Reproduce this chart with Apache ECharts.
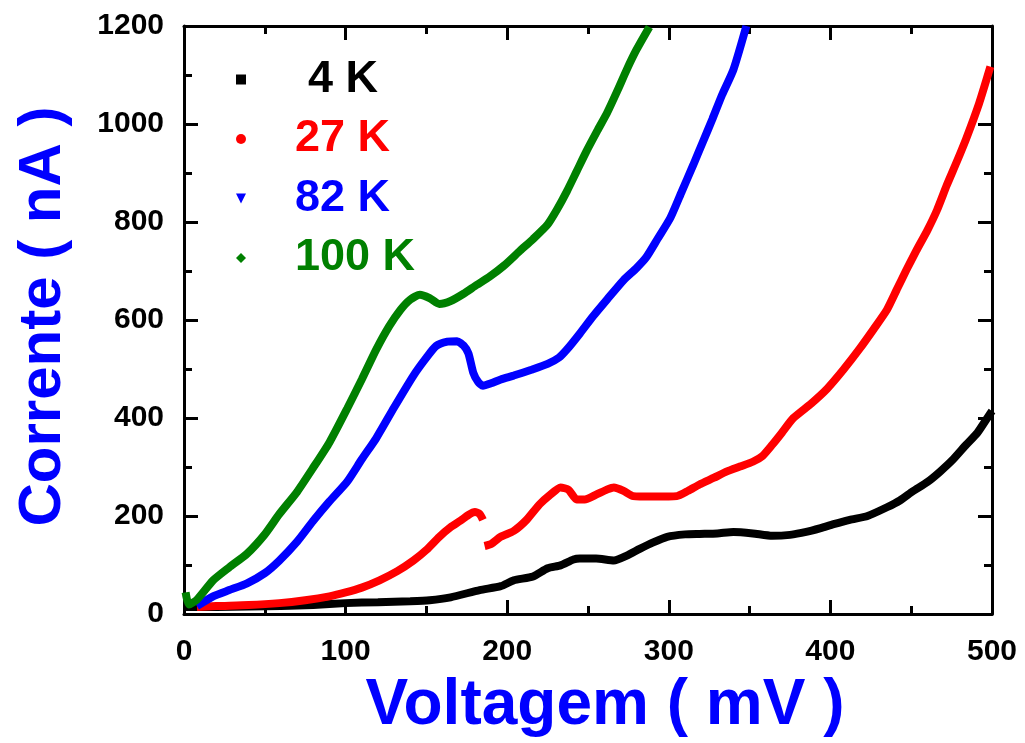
<!DOCTYPE html>
<html>
<head>
<meta charset="utf-8">
<script src="https://cdn.jsdelivr.net/npm/echarts@6/dist/echarts.min.js"></script>
<style>
html,body{margin:0;padding:0;background:#fff;}
.c{width:1025px;height:743px;position:absolute;left:0;top:0;}
</style>
</head>
<body>
<div class="c" id="axes"></div>
<div class="c" id="chart"></div>
<script>
// ---- data ----
const seriesNames = ['4 K', '27 K', '82 K', '100 K'];
const seriesColors = ['#000000', '#ff0000', '#0000ff', '#008000'];

const v4K = [0, 20, 40, 60, 80, 100, 120, 140, 152, 165, 183, 196, 204, 216, 225, 233, 241, 245, 255, 266, 274, 282, 290, 299, 310, 319, 330, 340, 352, 364, 375, 385, 394, 402, 412, 423, 435, 443, 451, 460, 468, 476, 484, 491, 497, 500];
const i4K = [0, 0, 1, 2, 4, 8, 10, 12, 14, 20, 35, 43, 55, 63, 80, 86, 98, 100, 100, 96, 106, 120, 133, 145, 150, 151, 152, 155, 152, 147, 149, 155, 163, 171, 180, 188, 206, 220, 239, 258, 280, 305, 335, 360, 390, 405];

const v27K = [8, 20, 40, 59, 75, 90, 100, 110, 121, 132, 142, 150, 158, 165, 171, 176, 180, 183, 185, null, 186, 190, 196, 204, 212, 220, 226, 233, 238, 243, 248, 255, 262, 266, 272, 278, 290, 305, 312, 319, 328, 336, 344, 352, 358, 364, 370, 377, 388, 398, 408, 418, 427, 435, 441, 447, 453, 460, 466, 472, 478, 484, 492, 499];
const i27K = [0, 2, 4, 8, 14, 22, 30, 40, 55, 74, 96, 118, 145, 165, 178, 190, 196, 192, 180, null, 126, 130, 145, 157, 180, 212, 230, 247, 242, 222, 222, 232, 243, 247, 240, 229, 228, 229, 240, 253, 267, 280, 290, 300, 312, 335, 360, 390, 420, 451, 490, 533, 575, 614, 655, 696, 735, 778, 820, 871, 918, 967, 1040, 1116];

const v82K = [8, 18, 28, 39, 50, 59, 70, 80, 90, 101, 110, 119, 130, 142, 150, 156, 163, 169, 173, 176, 179, 182, 185, 190, 196, 204, 215, 225, 232, 237, 245, 253, 262, 272, 280, 286, 293, 301, 308, 315, 321, 327, 333, 340, 348];
const i82K = [2, 22, 35, 49, 70, 96, 135, 178, 218, 259, 305, 349, 412, 478, 515, 539, 548, 549, 540, 524, 484, 465, 457, 462, 470, 478, 490, 502, 515, 532, 565, 600, 636, 675, 700, 722, 760, 804, 858, 912, 960, 1008, 1058, 1110, 1200];

const v100K = [1, 3, 8, 18, 28, 39, 50, 59, 70, 80, 90, 101, 110, 119, 127, 134, 140, 146, 152, 158, 165, 173, 181, 189, 198, 208, 216, 225, 231, 237, 243, 249, 256, 262, 268, 274, 280, 288];
const i100K = [30, 5, 15, 55, 82, 110, 150, 192, 238, 288, 340, 410, 470, 532, 580, 614, 635, 645, 638, 626, 632, 647, 665, 682, 705, 736, 760, 790, 822, 859, 900, 941, 985, 1022, 1065, 1110, 1151, 1198];

const xTicks = {min: 0, max: 500, interval: 100};
const yTicks = {min: 0, max: 1200, interval: 200};
const xTitle = 'Voltagem ( mV )';
const yTitle = 'Corrente ( nA )';

// ---- build chart ----
const FONT = '"Liberation Sans", Arial, sans-serif';
function zip(xs, ys) { return xs.map((x, k) => (x === null || ys[k] === null) ? [null, null] : [x, ys[k]]); }
const seriesData = [zip(v4K, i4K), zip(v27K, i27K), zip(v82K, i82K), zip(v100K, i100K)];
const plain = v => String(v);
const GRID = {left: 184, right: 33, top: 26, bottom: 129};

// bottom layer: frame, ticks and tick labels
function frameAxis(dim, pos, showLabel) {
  const t = dim === 'x' ? xTicks : yTicks;
  return {
    type: 'value', position: pos, min: t.min, max: t.max, interval: t.interval,
    axisLine: {show: true, onZero: false, lineStyle: {color: '#000', width: 3}},
    axisTick: {show: true, inside: true, length: 14, lineStyle: {color: '#000', width: 3}},
    minorTick: {show: true, splitNumber: 2, length: 8, lineStyle: {color: '#000', width: 3}},
    splitLine: {show: false},
    axisLabel: {show: showLabel, formatter: plain, fontSize: 30, fontWeight: 'bold', color: '#000', fontFamily: FONT, margin: dim === 'x' ? 23 : 20}
  };
}
const axesChart = echarts.init(document.getElementById('axes'));
axesChart.setOption({
  animation: false,
  grid: GRID,
  xAxis: [frameAxis('x', 'bottom', true), frameAxis('x', 'top', false)],
  yAxis: [frameAxis('y', 'left', true), frameAxis('y', 'right', false)],
  series: [{type: 'line', data: [], showSymbol: false}]
});

// top layer: curves, legend, axis titles
function hiddenAxis(dim) {
  const t = dim === 'x' ? xTicks : yTicks;
  const a = {
    type: 'value', min: t.min, max: t.max, interval: t.interval,
    axisLine: {show: false}, axisTick: {show: false}, axisLabel: {show: false, formatter: plain}, splitLine: {show: false},
    nameLocation: 'middle'
  };
  if (dim === 'x') {
    a.name = xTitle; a.nameGap = 67;
    a.nameTextStyle = {fontSize: 64, fontWeight: 'bold', color: '#0000ff', fontFamily: FONT, padding: [0, 0, 0, 34]};
  } else {
    a.name = yTitle; a.nameGap = 111; a.nameRotate = 90;
    a.nameTextStyle = {fontSize: 60, fontWeight: 'bold', color: '#0000ff', fontFamily: FONT};
  }
  return a;
}

const icons = ['rect', 'circle', 'path://M0,0 L10,0 L5,10 Z', 'diamond'];
const pads = [57, 44, 44, 44];
const rich = {};
seriesNames.forEach((n, k) => {
  rich['p' + k] = {width: pads[k]};
  rich['c' + k] = {fontSize: 45, fontWeight: 'bold', color: seriesColors[k], fontFamily: FONT, lineHeight: 45};
});

const option = {
  animation: false,
  backgroundColor: 'transparent',
  color: seriesColors,
  grid: GRID,
  xAxis: hiddenAxis('x'),
  yAxis: hiddenAxis('y'),
  legend: {
    orient: 'vertical', left: 231, top: 52, itemGap: 14.5, itemWidth: 10, itemHeight: 10,
    data: seriesNames.map((n, k) => ({name: n, icon: icons[k]})),
    formatter: function (name) {
      const k = seriesNames.indexOf(name);
      return '{p' + k + '| }{c' + k + '|' + name + '}';
    },
    textStyle: {rich: rich, fontSize: 45, lineHeight: 45}
  },
  series: seriesNames.map((n, k) => ({
    name: n, type: 'line',
    data: seriesData[k], showSymbol: false, smooth: 0.2,
    lineStyle: {width: 8}
  }))
};

const chart = echarts.init(document.getElementById('chart'));
chart.setOption(option);
</script>
</body>
</html>
